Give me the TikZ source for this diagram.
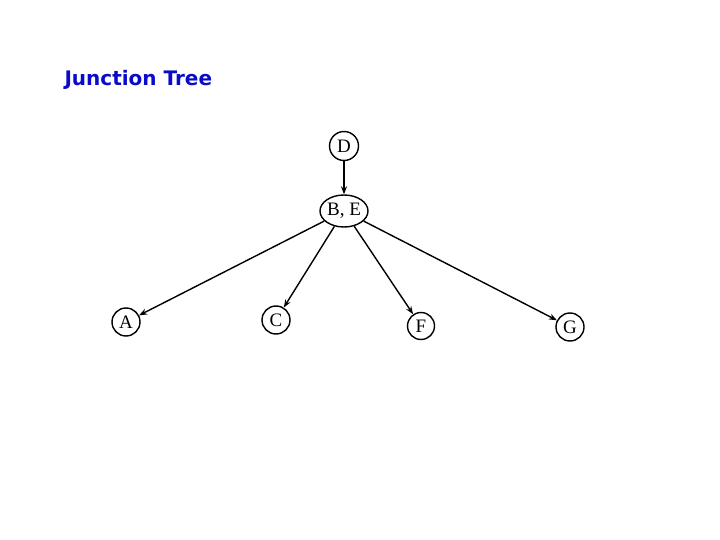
\documentclass[tikz,border=0pt]{standalone}
\usepackage{fontspec}
\setmainfont{Liberation Serif}
\newfontfamily\titlefont{DejaVu Sans}
\usetikzlibrary{shapes.geometric,arrows.meta}
\definecolor{titleblue}{RGB}{10,10,200}
\begin{document}
\begin{tikzpicture}[x=1pt,y=-1pt,
  cnode/.style={draw,circle,line width=1.4pt,inner sep=0pt,minimum size=29pt,font=\fontsize{19}{19}\selectfont},
  enode/.style={draw,ellipse,line width=1.4pt,inner sep=0pt,minimum width=48pt,minimum height=32pt,font=\fontsize{19}{19}\selectfont},
  arr/.style={-{Stealth[length=8pt,width=6pt]},line width=1.4pt}]
\useasboundingbox (0,0) rectangle (720,540);
\node[anchor=west,text=titleblue,font=\titlefont\bfseries\fontsize{20}{20}\selectfont] (title) at (61,80) {Junction Tree};
\node[cnode] (D) at (344,146) {D};
\node[enode] (BE) at (344,211) {B, E};
\node[cnode,minimum size=28pt] (A) at (126,322) {A};
\node[cnode,minimum size=28pt] (C) at (276,320) {C};
\node[cnode,minimum size=27pt] (F) at (421,326) {F};
\node[cnode,minimum size=28pt] (G) at (570,327) {G};
\draw[arr] (D) -- (BE);
\draw[arr] (BE) -- (A);
\draw[arr] (BE) -- (C);
\draw[arr] (BE) -- (F);
\draw[arr] (BE) -- (G);
\end{tikzpicture}
\end{document}
